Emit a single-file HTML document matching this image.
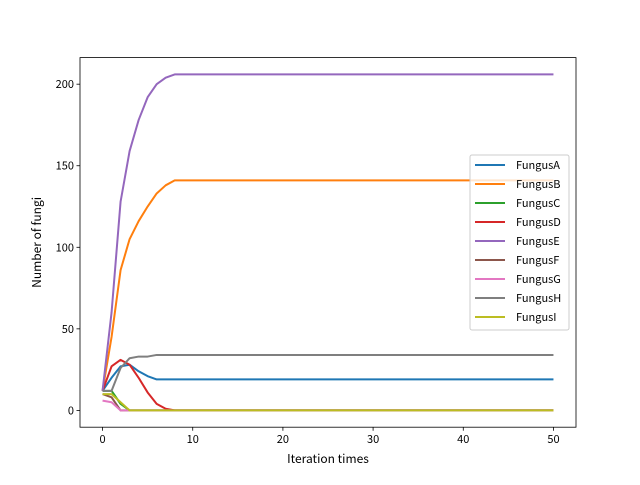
<!DOCTYPE html>
<html><head><meta charset="utf-8"><style>
body{margin:0;background:#fff;}
svg text{font-family:"WenQuanYi Zen Hei","Noto Sans CJK SC",sans-serif;}
</style></head><body>
<svg id="chart" width="640" height="480" xmlns="http://www.w3.org/2000/svg"></svg>
<script>
const seriesNames=["FungusA","FungusB","FungusC","FungusD","FungusE","FungusF","FungusG","FungusH","FungusI"];
const colors=["#1f77b4","#ff7f0e","#2ca02c","#d62728","#9467bd","#8c564b","#e377c2","#7f7f7f","#bcbd22"];
function pad(a,v){while(a.length<51)a.push(v);return a;}
const fungusA=pad([12,20,27,28,24,21,19],19);
const fungusB=pad([12,45,86,105,116,125,133,138,141],141);
const fungusC=pad([12,12,4,0],0);
const fungusD=pad([12,27,31,28,20,11,4,1,0],0);
const fungusE=pad([12,60,128,159,178,192,200,204,206],206);
const fungusF=pad([10,8,0],0);
const fungusG=pad([6,5,0],0);
const fungusH=pad([12,12,26,32,33,33,34],34);
const fungusI=pad([10,10,5,0],0);
const allSeries=[fungusA,fungusB,fungusC,fungusD,fungusE,fungusF,fungusG,fungusH,fungusI];
const xTicks=[0,10,20,30,40,50];
const yTicks=[0,50,100,150,200];
const L=80,R=576,T=57.6,B=427.2;
const xmin=-2.5,xmax=52.5,ymin=-10.3,ymax=216.3;
const X=v=>L+(v-xmin)/(xmax-xmin)*(R-L);
const Y=v=>B-(v-ymin)/(ymax-ymin)*(B-T);
const svg=document.getElementById('chart');
const NS="http://www.w3.org/2000/svg";
function mk(t,a,txt){const e=document.createElementNS(NS,t);for(const k in a)e.setAttribute(k,a[k]);if(txt!==undefined)e.textContent=txt;svg.appendChild(e);return e;}
allSeries.forEach((s,i)=>{
  const p=mk('polyline',{points:s.map((v,j)=>X(j)+','+Y(v)).join(' '),fill:'none',stroke:colors[i],'stroke-width':2,'stroke-linejoin':'round'});
  
  
});
const frame=mk('rect',{x:L,y:T,width:R-L,height:B-T,fill:'none',stroke:'#000','stroke-width':0.8});


xTicks.forEach(v=>{
  mk('line',{x1:X(v),x2:X(v),y1:B,y2:B+3.5,stroke:'#000','stroke-width':0.8});
  const t=mk('text',{x:X(v),y:B+16,'text-anchor':'middle','font-size':11},v);
  
  
});
yTicks.forEach(v=>{
  mk('line',{x1:L-3.5,x2:L,y1:Y(v),y2:Y(v),stroke:'#000','stroke-width':0.8});
  const t=mk('text',{x:L-6,y:Y(v)+4,'text-anchor':'end','font-size':11},v);
  
  
});
const xt=mk('text',{x:(L+R)/2,y:463,'text-anchor':'middle','font-size':12},'Iteration times');


const yt=mk('text',{x:41,y:(T+B)/2,'text-anchor':'middle','font-size':12,transform:'rotate(-90 41 '+((T+B)/2)+')'},'Number of fungi');


const lg=mk('rect',{x:470,y:155,width:99,height:175,rx:2,fill:'#fff','fill-opacity':0.8,stroke:'#ccc','stroke-width':1});


seriesNames.forEach((n,i)=>{
  const y=165+i*19;
  mk('line',{x1:475,x2:505,y1:y,y2:y,stroke:colors[i],'stroke-width':2});
  const t=mk('text',{x:516,y:y+4,'font-size':11},n);
  
  
});
</script>
</body></html>
